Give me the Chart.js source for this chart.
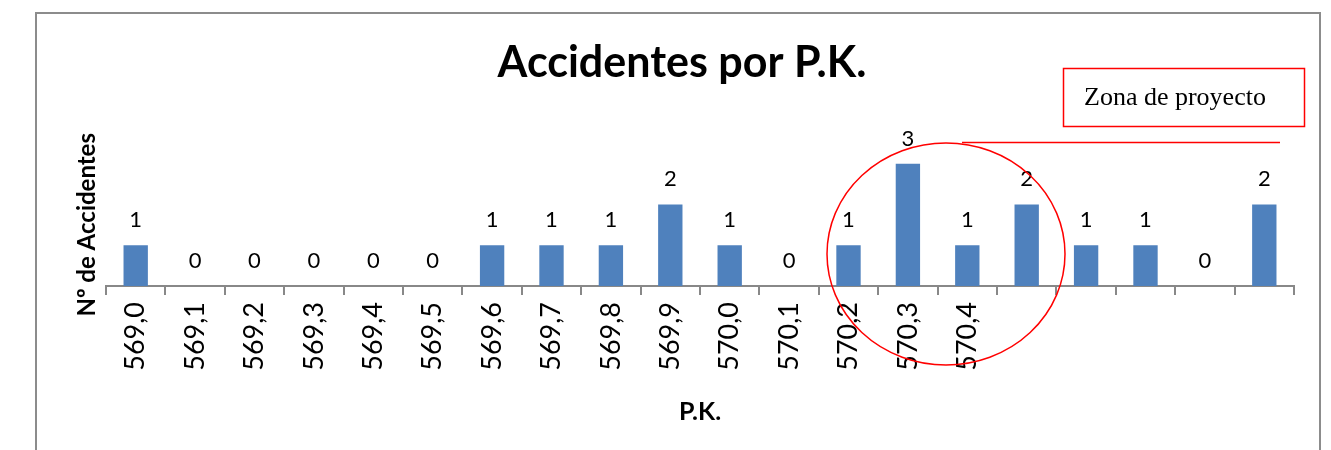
<!DOCTYPE html>
<html>
<head>
<meta charset="utf-8">
<script src="https://cdn.jsdelivr.net/npm/chart.js@4"></script>
<style>
  html, body { margin: 0; padding: 0; background: #fff; }
  #wrap { width: 1331px; height: 450px; }
</style>
</head>
<body>
<div id="wrap"><canvas id="pkChart" width="1331" height="450"></canvas></div>
<script>
// categories (P.K.) - the last five columns have no label in the original
const pkLabels = ['569,0', '569,1', '569,2', '569,3', '569,4', '569,5', '569,6', '569,7', '569,8', '569,9',
                  '570,0', '570,1', '570,2', '570,3', '570,4', '', '', '', '', ''];
// number of accidents per P.K.
const accidentes = [1, 0, 0, 0, 0, 0, 1, 1, 1, 2, 1, 0, 1, 3, 1, 2, 1, 1, 0, 2];
const yMin = 0;
const yMax = 3;

// value labels above each bar
const valueLabels = {
    id: 'valueLabels',
    afterDatasetsDraw(chart) {
        const ctx = chart.ctx;
        const meta = chart.getDatasetMeta(0);
        ctx.save();
        ctx.font = '22px Lato';
        ctx.fillStyle = '#000';
        ctx.textAlign = 'center';
        ctx.textBaseline = 'middle';
        meta.data.forEach((bar, i) => {
            ctx.fillText(String(accidentes[i]), bar.x, bar.y - 25);
        });
        ctx.restore();
    }
};

// frame + red hand-drawn annotations
const decorations = {
    id: 'decorations',
    beforeDraw(chart) {
        const ctx = chart.ctx;
        ctx.save();
        ctx.strokeStyle = '#8c8c8c';
        ctx.lineWidth = 2;
        ctx.beginPath();
        ctx.moveTo(36, 460);
        ctx.lineTo(36, 13);
        ctx.lineTo(1320, 13);
        ctx.lineTo(1320, 460);
        ctx.stroke();
        ctx.restore();
    },
    afterDraw(chart) {
        const ctx = chart.ctx;
        ctx.save();
        ctx.strokeStyle = '#ff0000';
        ctx.lineWidth = 1.5;
        // text box
        ctx.strokeRect(1063.5, 68.5, 241, 58);
        ctx.fillStyle = '#000';
        ctx.font = '26px "Liberation Serif"';
        ctx.textBaseline = 'alphabetic';
        ctx.fillText('Zona de proyecto', 1084, 105);
        // leader line
        ctx.beginPath();
        ctx.moveTo(962, 142.5);
        ctx.lineTo(1280, 142.5);
        ctx.stroke();
        // circle around the project zone
        ctx.beginPath();
        ctx.ellipse(946, 254, 119, 111, 0, 0, Math.PI * 2);
        ctx.stroke();
        ctx.restore();
    }
};

new Chart(document.getElementById('pkChart').getContext('2d'), {
    type: 'bar',
    data: {
        labels: pkLabels,
        datasets: [{
            data: accidentes,
            backgroundColor: '#4f81bd',
            borderWidth: 0,
            categoryPercentage: 1,
            barPercentage: 0.41
        }]
    },
    options: {
        responsive: false,
        animation: false,
        layout: { padding: { top: 10, left: 70, right: 37, bottom: 0 } },
        plugins: {
            legend: { display: false },
            tooltip: { enabled: false },
            title: {
                display: true,
                text: 'Accidentes por P.K.',
                color: '#000',
                font: { family: 'Lato', size: 43, weight: 'bold', lineHeight: 1.2 },
                padding: { top: 27, bottom: 75 }
            }
        },
        scales: {
            x: {
                afterFit(axis) { axis.height = 164; },
                grid: { drawOnChartArea: false, color: '#888', tickLength: 9, lineWidth: 2, offset: true },
                border: { color: '#888', width: 2 },
                ticks: {
                    autoSkip: false,
                    minRotation: 90,
                    maxRotation: 90,
                    padding: 7,
                    color: '#000',
                    font: { family: 'Lato', size: 27 }
                },
                title: {
                    display: true,
                    text: 'P.K.',
                    color: '#000',
                    font: { family: 'Lato', size: 25, weight: 'bold', lineHeight: 1.2 },
                    padding: { top: 23, bottom: 23 }
                }
            },
            y: {
                min: yMin,
                max: yMax,
                afterFit(axis) { axis.width = 36; },
                grid: { display: false },
                border: { display: false },
                ticks: { display: false },
                title: {
                    display: true,
                    text: 'Nº de Accidentes',
                    color: '#000',
                    font: { family: 'Lato', size: 24, weight: 'bold', lineHeight: 1.2 },
                    padding: { top: 3, bottom: 0 }
                }
            }
        }
    },
    plugins: [valueLabels, decorations]
});
</script>
</body>
</html>
